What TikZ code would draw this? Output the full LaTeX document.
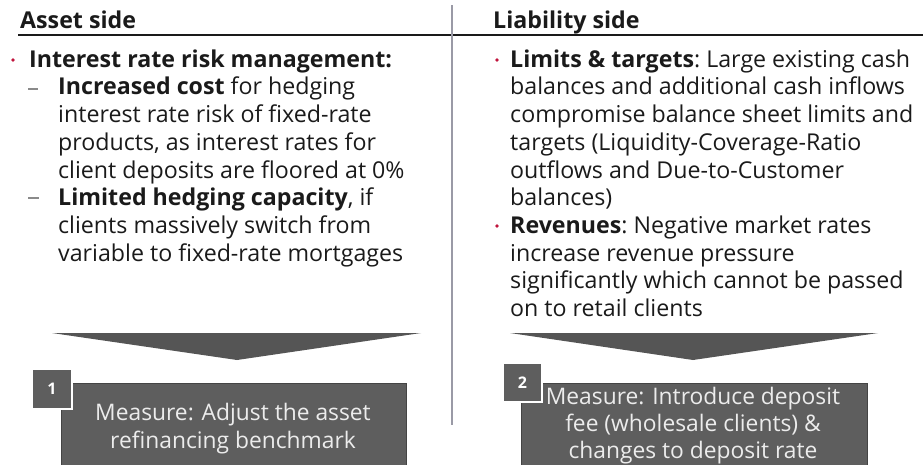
\documentclass[tikz,border=0pt]{standalone}
\usepackage{fontspec}
\setmainfont{Open Sans}
\definecolor{txt}{HTML}{1A1A1A}
\definecolor{boxgray}{HTML}{5E5E5E}
\definecolor{boxedge}{HTML}{444444}
\definecolor{arrowgray}{HTML}{555555}
\definecolor{divider}{HTML}{9A9AA6}
\definecolor{bulletred}{HTML}{C0143C}
\definecolor{dashgray}{HTML}{8A8A8A}
\definecolor{boxtext}{HTML}{ECECEC}
\begin{document}
\begin{tikzpicture}[x=1pt,y=-1pt,
  txtline/.style={anchor=base west, inner sep=0pt, text=txt, font=\fontsize{23.2}{28}\selectfont\frenchspacing},
  headline/.style={txtline, font=\fontsize{23.2}{28}\selectfont\bfseries},
  boxline/.style={anchor=base, inner sep=0pt, text=boxtext, font=\fontsize{22.8}{28}\selectfont},
  measurebox/.style={fill=boxgray, draw=boxedge, line width=0.8pt},
  numbox/.style={fill=boxgray, draw=white, line width=1.5pt},
  numtext/.style={text=white, font=\fontsize{16}{18}\selectfont\bfseries, inner sep=0pt},
  chevron/.style={fill=arrowgray, draw=none},
  reddot/.style={fill=bulletred, draw=none},
  dashmark/.style={draw=dashgray, line width=1.4pt}]
\useasboundingbox (0,0) rectangle (923,464);

% header rule and divider
\coordinate (ruleL) at (18,35);
\coordinate (ruleR) at (923,35);
\draw[line width=1.3pt, color=txt] (ruleL) -- (ruleR);
\coordinate (divT) at (452,5);
\coordinate (divB) at (452,425);
\draw[line width=2pt, color=divider] (divT) -- (divB);

% headings
\node[headline] (hA) at (20,28) {Asset side};
\node[headline] (hL) at (493,28) {Liability side};

% left column
\fill[reddot] (13,60) circle (1.9);
\node[headline] (L1) at (29,67) {Interest rate risk management:};
\draw[dashmark] (28,89) -- (38,89);
\node[txtline] (L2) at (58,94.7) {\textbf{Increased cost} for hedging};
\node[txtline] (L3) at (58,122.4) {interest rate risk of fixed-rate};
\node[txtline] (L4) at (58,150) {products, as interest rates for};
\node[txtline] (L5) at (58,178) {client deposits are floored at 0\%};
\draw[dashmark] (28,198) -- (39,198);
\node[txtline] (L6) at (58,205.5) {\textbf{Limited hedging capacity}, if};
\node[txtline] (L7) at (58,233) {clients massively switch from};
\node[txtline] (L8) at (58,261) {variable to fixed-rate mortgages};

% right column
\fill[reddot] (497,60) circle (1.9);
\node[txtline] (R1) at (510,67) {\textbf{Limits \& targets}: Large existing cash};
\node[txtline] (R2) at (510,94.7) {balances and additional cash inflows};
\node[txtline] (R3) at (510,122.4) {compromise balance sheet limits and};
\node[txtline] (R4) at (510,150) {targets (Liquidity-Coverage-Ratio};
\node[txtline] (R5) at (510,178) {outflows and Due-to-Customer};
\node[txtline] (R6) at (510,205.5) {balances)};
\fill[reddot] (497,226) circle (1.9);
\node[txtline] (R7) at (510,233) {\textbf{Revenues}: Negative market rates};
\node[txtline] (R8) at (510,261) {increase revenue pressure};
\node[txtline] (R9) at (510,288.6) {significantly which cannot be passed};
\node[txtline] (R10) at (510,316) {on to retail clients};

% chevrons
\fill[chevron] (52,333) -- (421,333) -- (237,360) -- cycle;
\fill[chevron] (510,333) -- (878,333) -- (693,360) -- cycle;

% measure boxes
\draw[measurebox] (61,383) rectangle (406,465);
\node[boxline] (M1a) at (233,420) {Measure: Adjust the asset};
\node[boxline] (M1b) at (233,448) {refinancing benchmark};
\draw[numbox] (32,369) rectangle (72,409);
\node[numtext] (n1) at (52,389) {1};

\draw[measurebox] (521,383) rectangle (867,465);
\node[boxline] (M2a) at (693,404) {Measure: Introduce deposit};
\node[boxline] (M2b) at (693,431) {fee (wholesale clients) \&};
\node[boxline] (M2c) at (693,458) {changes to deposit rate};
\draw[numbox] (503,363) rectangle (542,402);
\node[numtext] (n2) at (522.5,382.5) {2};
\end{tikzpicture}
\end{document}
